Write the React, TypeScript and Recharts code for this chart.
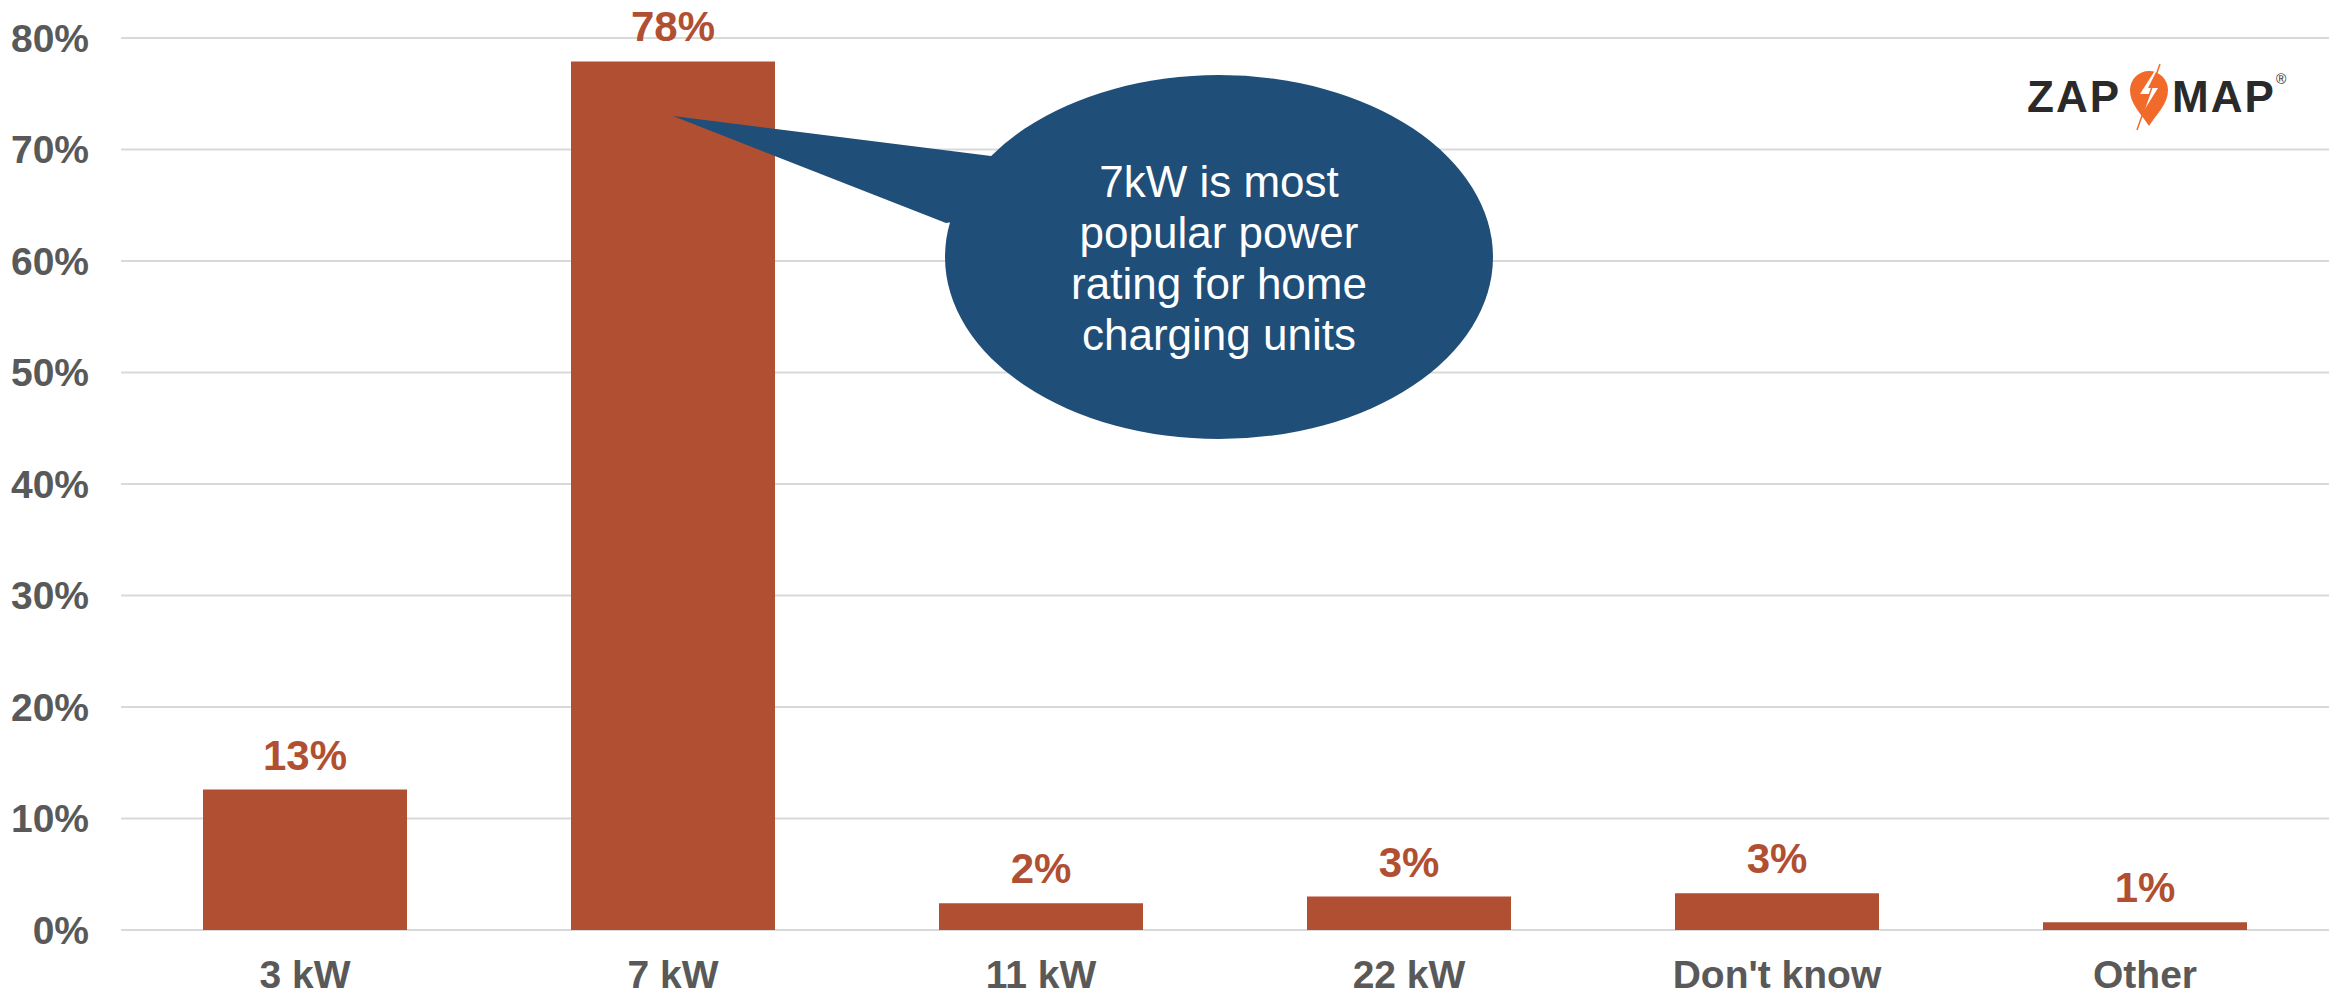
import React from 'react';
import {
  BarChart, Bar, XAxis, YAxis, CartesianGrid, LabelList, ReferenceDot
} from 'recharts';

// survey: power rating of home charging units
const categories = ['3 kW', '7 kW', '11 kW', '22 kW', "Don't know", 'Other'];
const shares = [12.6, 77.9, 2.4, 3.0, 3.3, 0.7];
const yTicks = [0, 10, 20, 30, 40, 50, 60, 70, 80];
const calloutLines = ['7kW is most', 'popular power', 'rating for home', 'charging units'];
const calloutTarget = { category: '7 kW', value: 73 };

const data = categories.map((c, i) => ({ name: c, share: shares[i] }));

const FONT = '"Liberation Sans", Arial, sans-serif';
const BAR = '#B14F32';
const BLUE = '#1F4E79';
const GREY = '#595959';

const Callout = (props: any) => {
  const { cx, cy } = props;
  if (cx == null || cy == null) return null;
  const ex = cx + 546;
  const ey = cy + 141;
  return (
    <g>
      <polygon
        points={`${cx},${cy} ${cx + 318},${cy + 40} ${ex - 100},${ey - 60} ${cx + 273},${cy + 107}`}
        fill={BLUE}
      />
      <ellipse cx={ex} cy={ey} rx={274} ry={182} fill={BLUE} />
      <text
        x={ex}
        y={ey - 60}
        textAnchor="middle"
        fill="#ffffff"
        fontFamily={FONT}
        fontSize={44}
      >
        {calloutLines.map((l, i) => (
          <tspan key={l} x={ex} dy={i === 0 ? 0 : 51}>{l}</tspan>
        ))}
      </text>
    </g>
  );
};

const Logo = () => (
  <svg
    width={2333}
    height={996}
    style={{ position: 'absolute', left: 0, top: 0, pointerEvents: 'none' }}
  >
    <text x={2027} y={112} fontFamily={FONT} fontWeight={700} fontSize={44}
      fill="#2a2a2a" letterSpacing={2}>ZAP</text>
    <path
      d="M2149,126 C2140,112 2130,104 2130,90 A19,19 0 1 1 2168,90 C2168,104 2158,112 2149,126 Z"
      fill="#F26A2A"
    />
    <path d="M2154,72 L2140,94 L2150,94 L2143,112 L2158,88 L2148,88 L2156,72 Z" fill="#ffffff" />
    <line x1={2160} y1={64} x2={2137} y2={130} stroke="#F26A2A" strokeWidth={1.5} />
    <text x={2172} y={112} fontFamily={FONT} fontWeight={700} fontSize={44}
      fill="#2a2a2a" letterSpacing={2}>MAP</text>
    <text x={2276} y={84} fontFamily={FONT} fontSize={14} fill="#2a2a2a">®</text>
  </svg>
);

export default function App() {
  return (
    <div
      style={{
        position: 'absolute', left: 0, top: 0, width: 2333, height: 996,
        overflow: 'hidden', background: '#ffffff', fontFamily: FONT,
      }}
    >
      <BarChart
        width={2333}
        height={996}
        data={data}
        margin={{ top: 38, right: 4, bottom: 0, left: 0 }}
      >
        <CartesianGrid vertical={false} stroke="#D9D9D9" strokeWidth={2} />
        <XAxis
          dataKey="name"
          axisLine={false}
          tickLine={false}
          tickSize={0}
          tickMargin={30}
          height={66}
          interval={0}
          tick={{ fontSize: 39, fontWeight: 700, fill: GREY, fontFamily: FONT }}
        />
        <YAxis
          width={121}
          domain={[0, 80]}
          ticks={yTicks}
          axisLine={false}
          tickLine={false}
          tickSize={0}
          tickMargin={32}
          tickFormatter={(v: number) => `${v}%`}
          tick={{ fontSize: 39, fontWeight: 700, fill: GREY, fontFamily: FONT }}
        />
        <Bar dataKey="share" fill={BAR} barSize={204} isAnimationActive={false}>
          <LabelList
            dataKey="share"
            position="top"
            offset={20}
            formatter={(v: any) => `${Math.round(Number(v))}%`}
            style={{ fontSize: 42, fontWeight: 700, fill: BAR, fontFamily: FONT }}
          />
        </Bar>
        <ReferenceDot
          x={calloutTarget.category}
          y={calloutTarget.value}
          r={0}
          shape={(p: any) => <Callout {...p} />}
        />
      </BarChart>
      <Logo />
    </div>
  );
}
